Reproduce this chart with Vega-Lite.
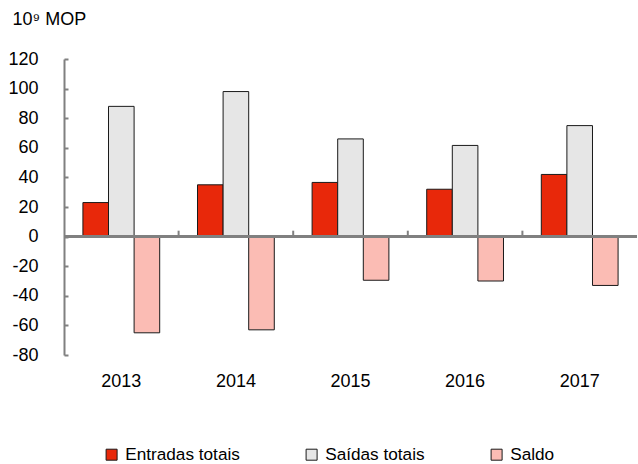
{
  "$schema": "https://vega.github.io/schema/vega-lite/v6.json",
  "autosize": {"type": "none"},
  "padding": {"left": 64, "top": 59, "right": 1, "bottom": 109},
  "width": 573,
  "height": 296,
  "config": {
    "font": "Liberation Sans",
    "view": {"stroke": null},
    "axis": {"grid": false, "labelColor": "#000000", "titleColor": "#000000", "labelFont": "Liberation Sans", "titleFont": "Liberation Sans"},
    "axisY": {
      "titleAngle": 0, "titleX": -52, "titleY": -35, "titleAlign": "left", "titleBaseline": "alphabetic", "titleFontSize": 18, "titleFontWeight": "normal",
      "labelOverlap": false, "labelFontSize": 18, "labelPadding": 30, "labelExpr": "toString(datum.value)",
      "domainColor": "#808080", "domainWidth": 2,
      "tickColor": "#808080", "tickWidth": 2, "tickSize": -4
    },
    "legend": {"labelFont": "Liberation Sans"}
  },
  "data": {
    "values": [
      {"ano": "2013", "serie": "Entradas totais", "valor": 23},
      {"ano": "2013", "serie": "Saídas totais", "valor": 88},
      {"ano": "2013", "serie": "Saldo", "valor": -65},
      {"ano": "2014", "serie": "Entradas totais", "valor": 35},
      {"ano": "2014", "serie": "Saídas totais", "valor": 98},
      {"ano": "2014", "serie": "Saldo", "valor": -63},
      {"ano": "2015", "serie": "Entradas totais", "valor": 36.6},
      {"ano": "2015", "serie": "Saídas totais", "valor": 66},
      {"ano": "2015", "serie": "Saldo", "valor": -29.5},
      {"ano": "2016", "serie": "Entradas totais", "valor": 32},
      {"ano": "2016", "serie": "Saídas totais", "valor": 61.6},
      {"ano": "2016", "serie": "Saldo", "valor": -30},
      {"ano": "2017", "serie": "Entradas totais", "valor": 42},
      {"ano": "2017", "serie": "Saídas totais", "valor": 75},
      {"ano": "2017", "serie": "Saldo", "valor": -33}
    ]
  },
  "resolve": {"scale": {"x": "independent"}},
  "layer": [
    {
      "mark": {"type": "bar", "stroke": "#1a1a1a", "strokeWidth": 1},
      "encoding": {
        "x": {
          "field": "ano", "type": "nominal",
          "scale": {"paddingInner": 0.33, "paddingOuter": 0.165},
          "axis": {"title": null, "orient": "bottom", "domain": false, "ticks": false, "labelAngle": 0, "labelFontSize": 18, "labelPadding": 17}
        },
        "xOffset": {"field": "serie", "type": "nominal", "sort": ["Entradas totais", "Saídas totais", "Saldo"], "scale": {"paddingInner": 0, "paddingOuter": 0}},
        "y": {
          "field": "valor", "type": "quantitative",
          "scale": {"domain": [-80, 120], "nice": false, "zero": false},
          "axis": {"title": "10⁹ MOP", "values": [-80, -60, -40, -20, 0, 20, 40, 60, 80, 100, 120], "labelOverlap": false}
        },
        "color": {
          "field": "serie", "type": "nominal",
          "scale": {"domain": ["Entradas totais", "Saídas totais", "Saldo"], "range": ["#E8280A", "#E6E6E6", "#FBBCB4"]},
          "legend": {
            "title": null, "orient": "none", "direction": "horizontal", "legendX": 39, "legendY": 387,
            "symbolType": "square", "symbolSize": 121, "symbolStrokeColor": "#1a1a1a", "symbolStrokeWidth": 1,
            "labelFontSize": 17.2, "columnPadding": 63, "labelOffset": 5
          }
        }
      }
    },
    {
      "mark": {"type": "rule", "color": "#808080", "strokeWidth": 2.5},
      "encoding": {"y": {"datum": 0, "type": "quantitative", "axis": {"title": "10⁹ MOP", "values": [-80, -60, -40, -20, 0, 20, 40, 60, 80, 100, 120], "labelOverlap": false}}}
    },
    {
      "transform": [{"filter": "datum.serie === 'Saldo' && datum.ano !== '2013'"}],
      "mark": {"type": "rule", "color": "#808080", "strokeWidth": 2},
      "encoding": {
        "x": {"field": "ano", "type": "nominal", "bandPosition": 0, "scale": {"domain": ["2013", "2014", "2015", "2016", "2017"], "paddingInner": 0, "paddingOuter": 0}, "axis": null},
        "y": {"datum": 0, "type": "quantitative", "axis": {"title": "10⁹ MOP", "values": [-80, -60, -40, -20, 0, 20, 40, 60, 80, 100, 120], "labelOverlap": false}},
        "y2": {"datum": 4}
      }
    }
  ]
}
